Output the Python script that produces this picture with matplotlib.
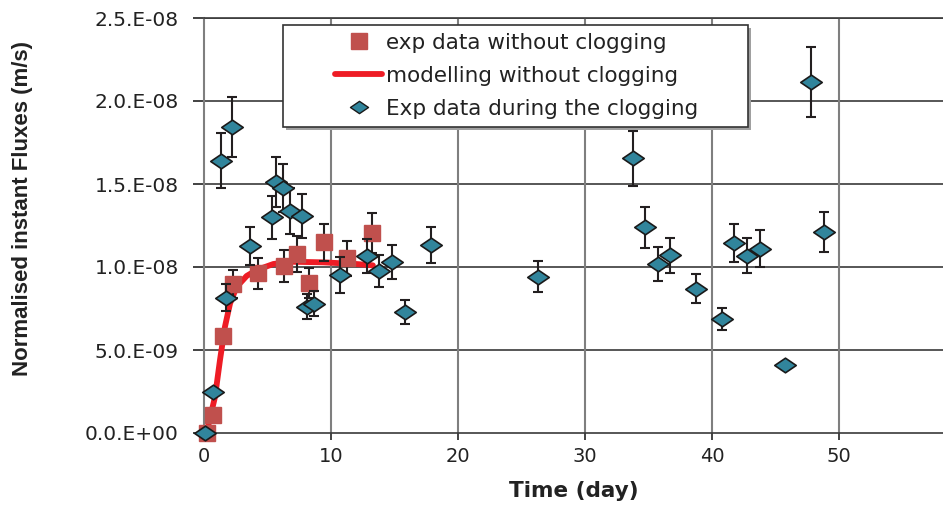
import matplotlib
matplotlib.use("Agg")
import matplotlib.pyplot as plt
from matplotlib.path import Path
from matplotlib.patches import Rectangle
from matplotlib.lines import Line2D

plt.rcParams["font.family"] = ["DejaVu Sans"]

# exp data without clogging (day, flux m/s, error)
nc_day = [0.2, 0.68, 1.47, 2.31, 4.28, 6.33, 7.3, 8.3, 9.48, 11.29, 13.2]
nc_flux = [0.0, 0.108e-8, 0.584e-8, 0.896e-8, 0.962e-8, 1.006e-8, 1.077e-8,
           0.902e-8, 1.149e-8, 1.052e-8, 1.203e-8]
nc_err = [0.0, 0.0, 0.0, 0.085e-8, 0.095e-8, 0.097e-8, 0.108e-8,
          0.09e-8, 0.113e-8, 0.105e-8, 0.12e-8]

# modelling without clogging
mod_day = [0.2, 0.87, 1.26, 1.65, 2.05, 2.57, 3.36, 4.15, 5.46, 6.77, 9.4, 12.0, 13.3]
mod_flux = [0.0, 0.219e-8, 0.44e-8, 0.64e-8, 0.78e-8, 0.88e-8, 0.946e-8,
            0.982e-8, 1.018e-8, 1.032e-8, 1.028e-8, 1.018e-8, 1.01e-8]

# exp data during the clogging
cl_day = [0.08, 0.73, 1.73, 1.31, 2.18, 3.62, 5.33, 5.67, 6.2, 6.77, 7.69,
          8.09, 8.66, 10.7, 12.81, 13.8, 14.78, 15.83, 17.87, 26.27, 33.75,
          34.72, 35.72, 36.73, 38.74, 40.76, 41.76, 42.78, 43.78, 45.77,
          47.8, 48.8]
cl_flux = [0.0, 0.247e-8, 0.815e-8, 1.64e-8, 1.845e-8, 1.128e-8, 1.30e-8,
           1.51e-8, 1.478e-8, 1.337e-8, 1.307e-8, 0.761e-8, 0.78e-8,
           0.952e-8, 1.066e-8, 0.976e-8, 1.032e-8, 0.727e-8, 1.133e-8,
           0.942e-8, 1.655e-8, 1.239e-8, 1.018e-8, 1.07e-8, 0.869e-8,
           0.685e-8, 1.146e-8, 1.068e-8, 1.11e-8, 0.408e-8, 2.116e-8,
           1.211e-8]
cl_err = [0.0, 0.0, 0.08e-8, 0.165e-8, 0.18e-8, 0.113e-8, 0.13e-8, 0.15e-8,
          0.145e-8, 0.137e-8, 0.13e-8, 0.075e-8, 0.075e-8, 0.11e-8, 0.1e-8,
          0.098e-8, 0.103e-8, 0.072e-8, 0.11e-8, 0.094e-8, 0.165e-8,
          0.123e-8, 0.1e-8, 0.107e-8, 0.087e-8, 0.067e-8, 0.113e-8,
          0.105e-8, 0.11e-8, 0.02e-8, 0.21e-8, 0.12e-8]

y_ticks = [0, 0.5e-8, 1.0e-8, 1.5e-8, 2.0e-8, 2.5e-8]
y_labels = ["0.0.E+00", "5.0.E-09", "1.0.E-08", "1.5.E-08", "2.0.E-08", "2.5.E-08"]
x_ticks = [0, 10, 20, 30, 40, 50]

SQ_COLOR = "#C0504D"
LINE_COLOR = "#EE1C25"
DIA_COLOR = "#31859C"
ERR_COLOR = "#231F20"
TXT = "#222222"

wide_diamond = Path([(-1, 0), (0, 0.68), (1, 0), (0, -0.68), (-1, 0)],
                    [Path.MOVETO, Path.LINETO, Path.LINETO, Path.LINETO, Path.CLOSEPOLY])

fig = plt.figure(figsize=(9.43, 5.05), dpi=100)
ax = fig.add_axes([204 / 943, 1 - 433 / 505, 1 - 204 / 943, 415 / 505])

ax.set_xlim(0, 58.2)
ax.set_ylim(0, 2.5e-8)

for y in y_ticks[1:]:
    ax.axhline(y, color="#3a3a3a", lw=1.2, zorder=1)
for x in x_ticks[1:]:
    ax.axvline(x, color="#7f7f7f", lw=1.5, zorder=1)

ax.plot(mod_day, mod_flux, color=LINE_COLOR, lw=4.2, zorder=3,
        solid_capstyle="round", clip_on=False)

ax.errorbar(nc_day, nc_flux, yerr=nc_err, fmt="none", ecolor=ERR_COLOR,
            elinewidth=1.5, capsize=3.6, capthick=1.5, zorder=4)
ax.plot(nc_day, nc_flux, ls="none", marker="s", ms=11.5, mfc=SQ_COLOR,
        mec=SQ_COLOR, zorder=5, clip_on=False)

ax.errorbar(cl_day, cl_flux, yerr=cl_err, fmt="none", ecolor=ERR_COLOR,
            elinewidth=1.5, capsize=3.6, capthick=1.5, zorder=6)
ax.plot(cl_day, cl_flux, ls="none", marker=wide_diamond, ms=15.5,
        mfc=DIA_COLOR, mec="#1a1a1a", mew=1.2, zorder=7, clip_on=False)

ax.set_xticks(x_ticks)
ax.set_yticks(y_ticks)
ax.set_yticklabels(y_labels)
ax.tick_params(axis="y", labelsize=14.5, colors=TXT, length=8, width=1.2,
               direction="out", pad=10)
ax.tick_params(axis="x", labelsize=14, colors=TXT, length=5, width=1.2,
               direction="out", pad=5)
ax.spines["right"].set_visible(False)
ax.spines["top"].set_color("#3a3a3a")
ax.spines["top"].set_linewidth(1.2)
ax.spines["left"].set_color("#7f7f7f")
ax.spines["left"].set_linewidth(1.5)
ax.spines["bottom"].set_color("#3a3a3a")
ax.spines["bottom"].set_linewidth(1.2)

ax.set_xlabel("Time (day)", fontsize=15.5, fontweight="bold", color=TXT,
              labelpad=11)
fig.text(23 / 943, 1 - 209 / 505, "Normalised instant Fluxes (m/s)",
         rotation=90, ha="center", va="center", fontsize=16, color=TXT,
         fontweight="bold", family=["Liberation Sans", "DejaVu Sans"])

# legend box
fig.patches.append(Rectangle((286 / 943, 1 - 130 / 505), 465 / 943, 102 / 505,
                             transform=fig.transFigure, facecolor="#a0a0a0",
                             edgecolor="none", zorder=8))
fig.patches.append(Rectangle((283 / 943, 1 - 127 / 505), 465 / 943, 102 / 505,
                             transform=fig.transFigure, facecolor="white",
                             edgecolor="#333333", lw=1.2, zorder=9))

handles = [
    Line2D([], [], ls="none", marker="s", ms=11, mfc=SQ_COLOR, mec=SQ_COLOR),
    Line2D([], [], color=LINE_COLOR, lw=4.2, solid_capstyle="round"),
    Line2D([], [], ls="none", marker=wide_diamond, ms=13, mfc=DIA_COLOR,
           mec="#1a1a1a", mew=1.0),
]
labels = ["exp data without clogging", "modelling without clogging",
          "Exp data during the clogging"]
leg = fig.legend(handles, labels, loc="upper left",
                 bbox_to_anchor=(335 / 943, 1 - 33 / 505),
                 bbox_transform=fig.transFigure, frameon=False, fontsize=15.5,
                 handlelength=2.2, handletextpad=0.15, labelspacing=0.6,
                 borderpad=0, borderaxespad=0)
leg.set_zorder(10)
for t in leg.get_texts():
    t.set_color(TXT)

fig.savefig("out.png", dpi=100)
